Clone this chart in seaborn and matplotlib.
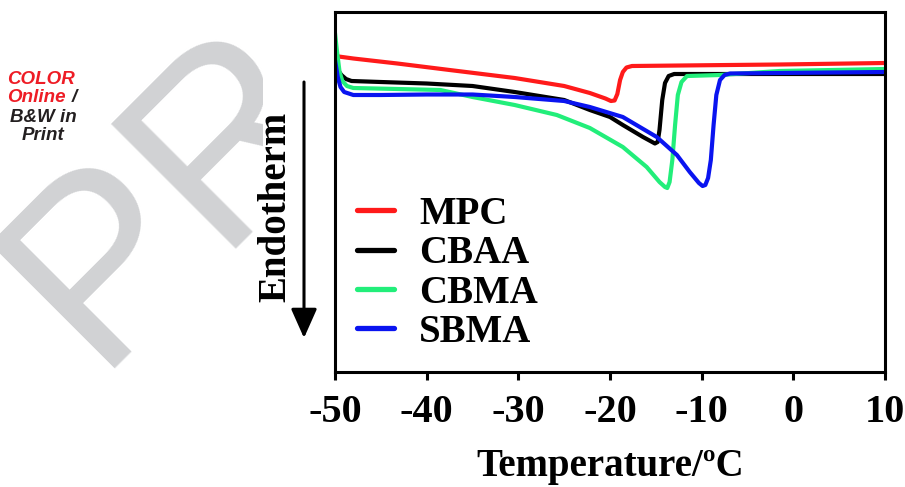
import matplotlib
matplotlib.use("Agg")
import matplotlib.pyplot as plt
import numpy as np
import pandas as pd
import seaborn as sns
from matplotlib.patches import Rectangle

# ---------------- data ----------------
samples = ["MPC", "CBAA", "CBMA", "SBMA"]
colors = ["#ff1a1a", "#000000", "#22ee7a", "#0a14f0"]

mpc_T = [-50, -48, -43.2, -37.5, -30.4, -25, -22.2, -20.5, -19.9, -19.5, -19.2,
         -18.9, -18.6, -18.2, -17.6, -7, -1.5, 10]
mpc_hf = [31.6, 31.35, 30.85, 30.2, 29.4, 28.6, 27.9, 27.35, 27.1, 27.15, 27.8,
          29.2, 30.0, 30.45, 30.6, 30.7, 30.75, 30.9]

cbaa_T = [-50, -49.7, -49.3, -48.8, -48.2, -45, -40, -35, -30.4, -25, -22.2, -20,
          -18.6, -16.4, -15.6, -15.1, -14.8, -14.6, -14.3, -14.0, -13.6, -13.0, 10]
cbaa_hf = [31.0, 30.2, 29.7, 29.3, 29.1, 29.0, 28.85, 28.6, 28.0, 27.2, 26.2, 25.5,
           24.7, 23.5, 23.1, 22.85, 23.0, 24.2, 27.2, 28.9, 29.6, 29.8, 29.8]

cbma_T = [-50, -49.8, -49.5, -49.2, -48.7, -48, -43.2, -38.5, -35, -30.4, -25.8,
          -22.2, -18.6, -16, -14.6, -14, -13.75, -13.5, -13.2, -12.9, -12.6, -12.2,
          -11.6, -8, -1.5, 10]
cbma_hf = [33.9, 32.2, 30.0, 29.1, 28.6, 28.4, 28.3, 28.2, 27.5, 26.7, 25.7,
           24.4, 22.5, 20.5, 19.0, 18.5, 18.4, 19.0, 21.2, 24.7, 27.7, 29.0,
           29.6, 29.7, 30.1, 30.3]

sbma_T = [-50, -49.7, -49.4, -49, -48, -45, -40, -35, -30.4, -25, -22.2, -18.6,
          -14.9, -12.7, -11.3, -10.3, -9.9, -9.6, -9.3, -9.0, -8.7, -8.4, -8.0,
          -7.5, -6.9, -1.5, 10]
sbma_hf = [31.2, 29.5, 28.5, 28.0, 27.7, 27.7, 27.75, 27.75, 27.5, 27.1, 26.5, 25.5,
           23.5, 21.7, 20.0, 18.9, 18.6, 18.7, 19.4, 21.2, 24.7, 27.7, 29.2,
           29.7, 29.85, 29.9, 30.0]

xticks = [-50, -40, -30, -20, -10, 0, 10]
xtick_labels = ["-50", "-40", "-30", "-20", "-10", "0", "10"]

# ---------------- build long-form table ----------------
frames = []
for name, T, hf in zip(samples,
                       [mpc_T, cbaa_T, cbma_T, sbma_T],
                       [mpc_hf, cbaa_hf, cbma_hf, sbma_hf]):
    frames.append(pd.DataFrame({"T": T, "hf": hf, "sample": name}))
df = pd.concat(frames, ignore_index=True)

# ---------------- figure ----------------
sns.set_theme(style="white")
plt.rcParams["font.family"] = ["Liberation Serif", "DejaVu Serif"]
plt.rcParams["axes.unicode_minus"] = False
plt.rcParams["text.color"] = "black"
plt.rcParams["axes.labelcolor"] = "black"
plt.rcParams["xtick.color"] = "black"

fig = plt.figure(figsize=(9.05, 4.87), dpi=100)

# watermark behind everything, covered by the figure image area
fig.text(0.104, 0.244, "PROOF", fontsize=185, family="Liberation Sans",
         color="#d1d2d4", rotation=45, rotation_mode="anchor",
         ha="left", va="baseline", zorder=-3)
fig.add_artist(Rectangle((263 / 905, 0), 1, 1, transform=fig.transFigure,
                         facecolor="white", edgecolor="none", zorder=-2))

ax = fig.add_axes([335 / 905, 1 - 372 / 487, 550 / 905, 360 / 487])
ax.set_facecolor("white")

sns.lineplot(data=df, x="T", y="hf", hue="sample", hue_order=samples,
             palette=dict(zip(samples, colors)), estimator=None, sort=False,
             linewidth=3, ax=ax)

ax.set_xlim(-50, 10)
ax.set_ylim(0, 36)
ax.set_yticks([])
ax.set_ylabel("")
ax.set_xticks(xticks)
ax.set_xticklabels(xtick_labels, fontsize=29, fontweight="bold", color="black")
ax.tick_params(axis="x", direction="out", length=6, width=2.2, pad=10,
               colors="black", bottom=True)
ax.set_xlabel("Temperature/ºC", fontsize=28, fontweight="bold", labelpad=12,
              color="black")
for s in ax.spines.values():
    s.set_visible(True)
    s.set_linewidth(2.2)
    s.set_color("black")

handles, labels = ax.get_legend_handles_labels()
leg = ax.legend(handles, labels, loc="upper left", bbox_to_anchor=(0.04, 0.489),
                frameon=False, prop=dict(family="Liberation Serif", weight="bold", size=28),
                handlelength=0.95, handletextpad=0.65, labelspacing=0.06,
                borderpad=0, borderaxespad=0, labelcolor="black")
for ln in leg.get_lines():
    ln.set_linewidth(3.8)

# Endotherm label and arrow
fig.text(276 / 905, 1 - 207 / 487, "Endotherm", rotation=90, fontsize=28,
         fontweight="bold", ha="center", va="center", color="black")
ax.annotate("", xy=(304, 487 - 338), xytext=(304, 487 - 82),
            xycoords="figure pixels", textcoords="figure pixels",
            annotation_clip=False,
            arrowprops=dict(arrowstyle="-|>,head_length=0.9,head_width=0.4",
                            lw=2.2, color="black", shrinkA=0, shrinkB=0,
                            mutation_scale=20))

# COLOR Online / B&W in Print note
note = dict(family="Liberation Sans", fontweight="bold", style="italic", fontsize=13.5)
fig.text(41 / 905, 1 - 79 / 487, "COLOR", color="#ee1c25", ha="center", va="center", **note)
fig.text(7 / 905, 1 - 98 / 487, "Online", color="#ee1c25", ha="left", va="center", **note)
fig.text(72 / 905, 1 - 98 / 487, "/", color="#231f20", ha="left", va="center", **note)
fig.text(43 / 905, 1 - 118 / 487, "B&W in", color="#231f20", ha="center", va="center", **note)
fig.text(43 / 905, 1 - 136 / 487, "Print", color="#231f20", ha="center", va="center", **note)

fig.savefig("out.png", dpi=100)
